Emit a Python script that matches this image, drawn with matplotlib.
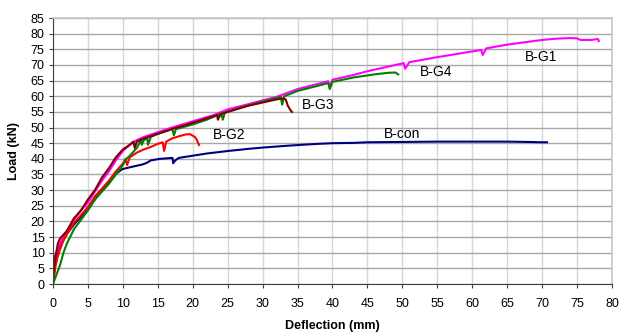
import numpy as np
import matplotlib
matplotlib.use('Agg')
import matplotlib.pyplot as plt

plt.rcParams['font.family'] = ['Liberation Sans', 'DejaVu Sans']

# Load-deflection curves
bcon_x = [0, 0.3, 1, 2, 3, 4, 5, 6, 7, 8, 8.6, 9.2, 9.9, 11, 12, 12.8, 13.4, 14, 15.3, 16.5, 17.1, 17.2,
          17.5, 18, 20, 22, 25, 28, 30, 33, 35, 38, 40, 43, 45, 50, 55, 60, 65, 68, 70, 70.7]
bcon_y = [0, 6, 12, 16, 19, 21.5, 24.5, 27, 30, 32.5, 34.2, 35.5, 36.7, 37.3, 37.8, 38.2, 38.7, 39.5, 40, 40.2, 40.3, 38.6,
          39.5, 40.3, 41, 41.7, 42.5, 43.2, 43.6, 44.1, 44.4, 44.8, 45, 45.1, 45.3, 45.4, 45.5, 45.5, 45.5, 45.4, 45.3, 45.3]

bg1_x = [0, 0.3, 1, 2, 3, 4, 5, 6, 7, 8, 9, 10, 11, 12, 13, 15, 17, 20, 23, 25, 28, 30, 32, 35, 39.4, 39.6,
         40, 43, 45, 48, 50.2, 50.4, 51, 55, 58, 61.3, 61.5, 62, 65, 68, 70, 72, 74, 75, 75.5, 77, 78, 78.1]
bg1_y = [5, 9, 13, 17, 20.5, 23.5, 26, 29.5, 33, 36, 39.5, 42.5, 44.5, 46, 47, 48.5, 50, 52, 54, 55.8, 57.5, 58.7, 59.8, 62.3, 64.8, 63,
         65.3, 66.8, 68, 69.5, 70.6, 68.8, 70.9, 72.5, 73.6, 74.8, 73.2, 75.3, 76.5, 77.4, 78, 78.4, 78.6, 78.5, 78, 78, 78.3, 77.6]

bg2_x = [0, 0.3, 0.7, 1, 1.5, 2, 3, 4, 5, 6, 7, 8, 9, 10, 10.4, 10.6, 11, 12, 13, 14, 15, 15.7, 15.9,
         16.2, 17, 18, 19, 19.6, 20.3, 20.6, 20.9]
bg2_y = [0, 5, 9, 11, 14, 16, 19.5, 22, 24.5, 28, 30.5, 33, 36, 38.5, 40, 38, 40.5, 42, 43, 43.8, 44.8, 45.3, 42.5,
         45.5, 46.5, 47.2, 47.8, 47.9, 47, 46, 44.4]

bg3_x = [0, 0.3, 0.7, 1, 2, 3, 4, 5, 6, 7, 8, 9, 10, 11, 11.5, 11.7, 12, 13, 15, 17, 20, 23.5, 23.6,
         24, 25, 28, 30, 32, 33, 33.3, 33.6, 34, 34.2]
bg3_y = [2, 8, 13, 14.5, 17, 21, 23.5, 27, 30, 34, 37, 40.5, 43, 44.5, 45.5, 43.5, 45.5, 46.5, 48, 49.5, 51.5, 54, 52.5,
         54.3, 55, 57, 58, 59, 59.3, 59, 57, 55.5, 55]

bg4_x = [0, 0.5, 1, 1.5, 2, 3, 4, 5, 6, 7, 8, 9, 10, 10.5, 11, 12, 12.6, 12.7, 13, 13.5, 13.6, 14, 15,
         17.1, 17.3, 17.6, 20, 22, 24.1, 24.3, 24.6, 27, 30, 32.6, 32.8, 33.1, 35, 39.4, 39.6, 40, 43, 46, 48, 49, 49.4]
bg4_y = [0, 3, 6, 10, 13, 17.5, 20.5, 23.5, 27, 29.5, 32, 35, 38, 40, 41, 43.5, 46, 44.5, 46, 46.5, 44.5, 47, 48,
         49.5, 47.5, 49.5, 51, 52.5, 54.5, 52.5, 54.8, 56.5, 58.3, 59.8, 57.3, 60, 61.7, 64.2, 62.3, 64.6, 66, 67, 67.5, 67.6, 67]

fig = plt.figure(figsize=(6.19, 3.34), dpi=100)
ax = fig.add_axes([0.0856, 0.1497, 0.9031, 0.7963])

ax.plot(bcon_x, bcon_y, color='#000080', lw=1.5)
ax.plot(bg1_x, bg1_y, color='#FF00FF', lw=1.5)
ax.plot(bg2_x, bg2_y, color='#FF0000', lw=1.5)
ax.plot(bg4_x, bg4_y, color='#008000', lw=1.5)
ax.plot(bg3_x, bg3_y, color='#800000', lw=1.5)

ax.text(69.8, 72.5, 'B-G1', ha='center', va='center', fontsize=10)
ax.text(54.8, 67.7, 'B-G4', ha='center', va='center', fontsize=10)
ax.text(37.9, 57.2, 'B-G3', ha='center', va='center', fontsize=10)
ax.text(25.2, 47.6, 'B-G2', ha='center', va='center', fontsize=10)
ax.text(49.9, 47.9, 'B-con', ha='center', va='center', fontsize=10)

ax.set_xlim(0, 80)
ax.set_ylim(0, 85)
ax.set_xticks(np.arange(0, 81, 5))
ax.set_yticks(np.arange(0, 86, 5))
ax.tick_params(labelsize=9, direction='out', length=3, color='#404040')
ax.tick_params(axis='x', pad=7)
ax.tick_params(axis='y', pad=3)
ax.xaxis.grid(True, color='#d6d6d6', lw=1)
ax.yaxis.grid(True, color='#a8a8a8', lw=1)
ax.set_axisbelow(True)
for s in ['top', 'right']:
    ax.spines[s].set_color('#c8c8c8')
    ax.spines[s].set_linewidth(1.2)
for s in ['left', 'bottom']:
    ax.spines[s].set_color('#404040')

ax.set_xlabel('Deflection (mm)', fontsize=9, fontweight='bold', labelpad=7)
ax.set_ylabel('Load (kN)', fontsize=9, fontweight='bold', labelpad=8)

fig.savefig('out.png', dpi=100)
